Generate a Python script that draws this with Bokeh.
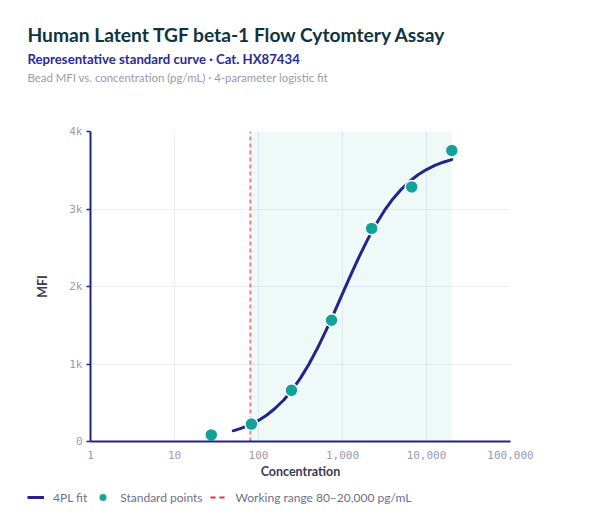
from bokeh.plotting import figure
from bokeh.layouts import column
from bokeh.models import (Range1d, FixedTicker, NumeralTickFormatter, Label, Legend,
                          LegendItem)
from bokeh.embed import file_html
from bokeh.resources import INLINE

# ---- data ----
std_conc = [27.4, 82.3, 247, 741, 2222, 6667, 20000]
std_mfi = [85, 225, 660, 1565, 2750, 3285, 3755]

fit_conc = [50, 63, 79, 100, 126, 158, 200, 251, 316, 398, 501, 631, 794, 1000,
            1259, 1585, 1995, 2512, 3162, 3981, 5012, 6310, 7943, 10000, 12589,
            15849, 20000]
fit_mfi = [138, 173, 216, 272, 342, 429, 536, 665, 818, 997, 1199, 1423, 1661, 1907,
           2152, 2388, 2608, 2806, 2981, 3130, 3255, 3358, 3442, 3509, 3562,
           3604, 3637]

working_range = [80, 20000]
x_ticks = [1, 10, 100, 1000, 10000, 100000]
y_ticks = [0, 1000, 2000, 3000, 4000]
y_tick_labels = ["0", "1k", "2k", "3k", "4k"]

title_text = "Human Latent TGF beta-1 Flow Cytomtery Assay"
subtitle_text = "Representative standard curve \u00b7 Cat. HX87434"
note_text = "Bead MFI vs. concentration (pg/mL) \u00b7 4-parameter logistic fit"
legend_labels = ["4PL fit", "Standard points", "Working range 80\u201320,000 pg/mL"]

NAVY = "#23238c"
TEAL = "#11a39a"
RED = "#d8323f"
FONT = "Lato"
MONO = "DejaVu Sans Mono"
W = 600
HEAD_H, FOOT_H = 100, 43
MAIN_H = 525 - HEAD_H - FOOT_H
NAN = [float("nan")]  # legend-only renderers draw nothing in the frame


def no_align(f):
    try:
        f.frame_align = False
    except Exception:
        pass


def blank(h):
    f = figure(width=W, height=h, x_range=Range1d(0, W), y_range=Range1d(h, 0),
               output_backend="svg", toolbar_location=None,
               x_axis_location=None, y_axis_location=None,
               min_border=0, min_border_left=0, min_border_right=0,
               min_border_top=0, min_border_bottom=0)
    f.grid.visible = False
    f.outline_line_color = None
    f.background_fill_color = "white"
    f.border_fill_color = "white"
    no_align(f)
    return f


# ---- header with titles ----
head = blank(HEAD_H)
head.add_layout(Label(x=27, y=34.2, text=title_text, text_font=FONT,
                      text_font_style="bold", text_font_size="19.2px",
                      text_color="#0e3441", text_baseline="alphabetic"))
head.add_layout(Label(x=27, y=58.0, text=subtitle_text, text_font=FONT,
                      text_font_style="bold", text_font_size="13.2px",
                      text_color="#2a2a96", text_baseline="alphabetic"))
head.add_layout(Label(x=27, y=77.2, text=note_text, text_font=FONT,
                      text_font_size="11.4px", text_color="#9a9aaa",
                      text_baseline="alphabetic"))

# ---- main plot ----
p = figure(width=W, height=MAIN_H, x_axis_type="log",
           x_range=Range1d(x_ticks[0], x_ticks[-1]),
           y_range=Range1d(y_ticks[0], y_ticks[-1]),
           output_backend="svg", toolbar_location=None,
           min_border_left=90, min_border_right=90,
           min_border_top=31, min_border_bottom=41)
p.outline_line_color = None
p.background_fill_color = "white"
p.border_fill_color = "white"
no_align(p)

band = p.quad(left=[working_range[0]], right=[working_range[1]],
              bottom=[y_ticks[0]], top=[y_ticks[-1]],
              fill_color=TEAL, fill_alpha=0.065, line_color=None)
wr_line = p.segment(x0=[working_range[0]], x1=[working_range[0]],
                    y0=[y_ticks[0]], y1=[y_ticks[-1]],
                    line_color=RED, line_alpha=0.6, line_width=2, line_dash="4 3")
fit = p.line(fit_conc, fit_mfi, line_color=NAVY, line_width=3, line_cap="round")
pts = p.scatter(std_conc, std_mfi, size=13, fill_color=TEAL, line_color="white",
                line_width=1.5)

p.xaxis.ticker = FixedTicker(ticks=x_ticks)
p.xaxis.formatter = NumeralTickFormatter(format="0,0")
p.yaxis.ticker = FixedTicker(ticks=y_ticks)
p.yaxis.major_label_overrides = {t: l for t, l in zip(y_ticks, y_tick_labels)}
for ax in (p.xaxis[0], p.yaxis[0]):
    ax.axis_line_color = NAVY
    ax.axis_line_width = 2
    ax.major_tick_line_color = NAVY
    ax.major_tick_line_width = 1.5
    ax.minor_tick_line_color = None
    ax.major_tick_in = 0
    ax.major_label_text_font = MONO
    ax.major_label_text_font_size = "11px"
    ax.major_label_text_color = "#9a9ab0"
    ax.axis_label_text_font = FONT
    ax.axis_label_text_font_style = "bold"
    ax.axis_label_text_font_size = "12.5px"
    ax.axis_label_text_color = "#3a3a52"
p.xaxis.major_tick_out = 0
p.yaxis.major_tick_out = 4
p.xaxis.major_label_standoff = 9
p.yaxis.major_label_standoff = 4
p.xaxis.axis_label = "Concentration"
p.yaxis.axis_label = "MFI"
p.xaxis.axis_label_standoff = 2
p.yaxis.axis_label_standoff = 16

p.xgrid.ticker = FixedTicker(ticks=x_ticks)
p.ygrid.ticker = FixedTicker(ticks=y_ticks)
for g in (p.xgrid[0], p.ygrid[0]):
    g.grid_line_color = "#eceef4"
    g.grid_line_width = 1

# ---- footer with legend ----
foot = blank(FOOT_H)
lg_fit = foot.line(NAN, NAN, line_color=NAVY, line_width=3)
lg_ring = foot.scatter(NAN, NAN, size=12, fill_color="white", line_color="#c9cdd9",
                       line_width=1.5)
lg_dot = foot.scatter(NAN, NAN, size=7, fill_color=TEAL, line_color=None)
lg_wr = foot.line(NAN, NAN, line_color=RED, line_width=2, line_dash="5 4")
legend = Legend(items=[LegendItem(label=legend_labels[0], renderers=[lg_fit]),
                       LegendItem(label=legend_labels[1], renderers=[lg_ring, lg_dot]),
                       LegendItem(label=legend_labels[2], renderers=[lg_wr])],
                location=(27, 20), orientation="horizontal",
                padding=0, margin=0, spacing=7, glyph_width=17, glyph_height=16,
                label_height=16, label_standoff=9,
                label_text_font=FONT, label_text_font_size="12px",
                label_text_color="#70708a",
                border_line_color=None, background_fill_alpha=0)
foot.add_layout(legend, "center")

layout = column(head, p, foot, spacing=0)
open("out.html", "w").write(file_html(layout, INLINE))
